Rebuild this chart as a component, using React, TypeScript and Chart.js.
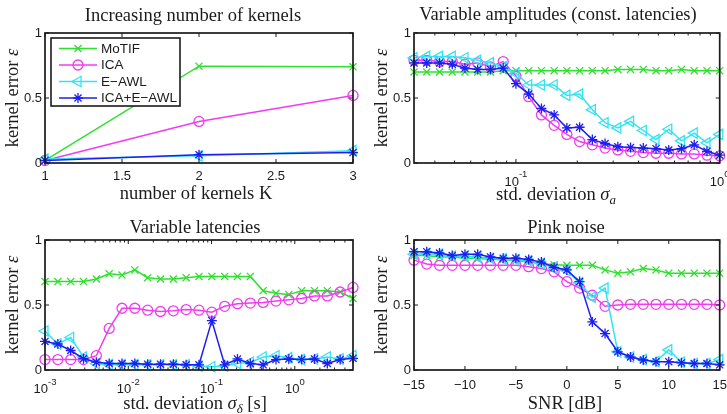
import React, { useEffect, useRef } from 'react';
import { Chart, registerables } from 'chart.js';

Chart.register(...registerables);

// ---- x positions -------------------------------------------------------
const kernelsK = [1, 2, 3];
const sigmaAmp = [
  0.0316, 0.0365, 0.0422, 0.0487, 0.0562, 0.0649, 0.075, 0.0866, 0.1, 0.1155,
  0.1334, 0.154, 0.1778, 0.2054, 0.2371, 0.2738, 0.3162, 0.3652, 0.4217, 0.487,
  0.5623, 0.6494, 0.7499, 0.866, 1.0,
];
const sigmaLat = [
  0.001, 0.001426, 0.002034, 0.002901, 0.004136, 0.005898, 0.00841, 0.01199,
  0.0171, 0.02438, 0.03477, 0.04958, 0.0707, 0.1008, 0.1438, 0.205, 0.2923,
  0.4169, 0.5944, 0.8476, 1.209, 1.724, 2.458, 3.505, 5.0,
];
const snrDb = [
  -15, -13.75, -12.5, -11.25, -10, -8.75, -7.5, -6.25, -5, -3.75, -2.5, -1.25, 0,
  1.25, 2.5, 3.75, 5, 6.25, 7.5, 8.75, 10, 11.25, 12.5, 13.75, 15,
];

// ---- kernel error, increasing number of kernels ------------------------
const motifK = [0.02, 0.745, 0.74];
const icaK = [0.02, 0.32, 0.52];
const eawlK = [0.03, 0.055, 0.095];
const comboK = [0.02, 0.064, 0.08];

// ---- kernel error, variable amplitudes --------------------------------
const motifAmp = [0.7, 0.7, 0.7, 0.7, 0.7, 0.7, 0.7, 0.71, 0.71, 0.71, 0.71, 0.71, 0.71, 0.71, 0.71, 0.71, 0.72, 0.72, 0.72, 0.71, 0.71, 0.72, 0.71, 0.71, 0.71];
const icaAmp = [0.79, 0.79, 0.78, 0.78, 0.76, 0.77, 0.74, 0.78, 0.67, 0.51, 0.37, 0.29, 0.22, 0.165, 0.14, 0.115, 0.1, 0.09, 0.08, 0.075, 0.075, 0.07, 0.07, 0.06, 0.055];
const eawlAmp = [0.81, 0.82, 0.82, 0.82, 0.81, 0.79, 0.77, 0.74, 0.69, 0.6, 0.6, 0.6, 0.52, 0.53, 0.41, 0.31, 0.27, 0.32, 0.25, 0.18, 0.26, 0.17, 0.23, 0.155, 0.22];
const comboAmp = [0.77, 0.77, 0.77, 0.76, 0.73, 0.72, 0.72, 0.73, 0.61, 0.53, 0.42, 0.37, 0.27, 0.275, 0.18, 0.15, 0.125, 0.12, 0.115, 0.11, 0.1, 0.11, 0.14, 0.09, 0.06];

// ---- kernel error, variable latencies ----------------------------------
const motifLat = [0.68, 0.68, 0.68, 0.68, 0.7, 0.74, 0.73, 0.77, 0.71, 0.7, 0.7, 0.71, 0.72, 0.72, 0.72, 0.72, 0.72, 0.61, 0.59, 0.58, 0.61, 0.61, 0.61, 0.6, 0.55];
const icaLat = [0.08, 0.08, 0.08, 0.08, 0.11, 0.32, 0.475, 0.475, 0.46, 0.45, 0.455, 0.465, 0.46, 0.445, 0.49, 0.51, 0.515, 0.52, 0.53, 0.54, 0.55, 0.57, 0.57, 0.6, 0.635];
const eawlLat = [0.3, 0.2, 0.25, 0.1, 0.05, 0.04, 0.04, 0.04, 0.04, 0.04, 0.04, 0.04, 0.03, 0.025, 0.03, 0.05, 0.06, 0.1, 0.11, 0.095, 0.08, 0.085, 0.1, 0.085, 0.11];
const comboLat = [0.22, 0.2, 0.15, 0.087, 0.06, 0.05, 0.05, 0.05, 0.045, 0.045, 0.045, 0.04, 0.04, 0.38, 0.04, 0.085, 0.05, 0.04, 0.08, 0.085, 0.08, 0.085, 0.05, 0.08, 0.09];

// ---- kernel error, pink noise ------------------------------------------
const motifSnr = [0.88, 0.88, 0.87, 0.87, 0.86, 0.86, 0.85, 0.85, 0.84, 0.83, 0.82, 0.81, 0.805, 0.805, 0.805, 0.77, 0.745, 0.755, 0.78, 0.77, 0.745, 0.745, 0.745, 0.745, 0.745];
const icaSnr = [0.845, 0.815, 0.805, 0.805, 0.805, 0.805, 0.805, 0.805, 0.805, 0.795, 0.78, 0.755, 0.68, 0.63, 0.575, 0.49, 0.5, 0.505, 0.505, 0.505, 0.505, 0.505, 0.505, 0.505, 0.5];
const eawlSnr = [0.89, 0.895, 0.89, 0.875, 0.875, 0.87, 0.86, 0.855, 0.85, 0.84, 0.82, 0.785, 0.765, 0.67, 0.56, 0.63, 0.14, 0.1, 0.08, 0.065, 0.155, 0.06, 0.05, 0.05, 0.08];
const comboSnr = [0.91, 0.91, 0.9, 0.88, 0.89, 0.89, 0.87, 0.86, 0.86, 0.85, 0.83, 0.79, 0.77, 0.68, 0.37, 0.28, 0.14, 0.1, 0.077, 0.064, 0.064, 0.056, 0.05, 0.05, 0.04];

// ---- legend and tick labels --------------------------------------------
const methodNames = ['MoTIF', 'ICA', 'E\u2212AWL', 'ICA+E\u2212AWL'];
const errorTicks = [0, 0.5, 1];
const errorTickText = ['0', '0.5', '1'];
const kernelTicks = [1, 1.5, 2, 2.5, 3];
const kernelTickText = ['1', '1.5', '2', '2.5', '3'];
const ampExponents = [-1, 0];
const latExponents = [-3, -2, -1, 0];
const snrTicks = [-15, -10, -5, 0, 5, 10, 15];
const snrTickText = ['\u221215', '\u221210', '\u22125', '0', '5', '10', '15'];

const INK = '#1b1b1b';
const SERIF = '"Liberation Serif", "Times New Roman", serif';
const SANS = '"Liberation Sans", Arial, sans-serif';

const methodStyles = [
  { color: '#2fe02f', point: 'crossRot', radius: 5, rotation: 0 },
  { color: '#f03cf0', point: 'circle', radius: 5, rotation: 0 },
  { color: '#33e3f0', point: 'triangle', radius: 6, rotation: -90 },
  { color: '#1e1ef0', point: 'star', radius: 5, rotation: 0 },
];

type Seg = { t: string; it?: boolean; sub?: boolean };

type PanelSpec = {
  left: number;
  top: number;
  width: number;
  height: number;
  area: { l: number; r: number; t: number; b: number };
  xLog: boolean;
  xMin: number;
  xMax: number;
  xs: number[];
  series: number[][];
  xTicks?: number[];
  xTickText?: string[];
  xExps?: number[];
  tickBase: number;
  title: string;
  titleX: number;
  titleBase: number;
  xLabel: Seg[];
  xLabelX: number;
  xLabelBase: number;
  legend: boolean;
};

const yLabel: Seg[] = [{ t: 'kernel error ' }, { t: '\u03b5', it: true }];

const panels: PanelSpec[] = [
  {
    left: 0, top: 0, width: 364, height: 207,
    area: { l: 45, r: 353, t: 33, b: 163 },
    xLog: false, xMin: 1, xMax: 3, xs: kernelsK,
    series: [motifK, icaK, eawlK, comboK],
    xTicks: kernelTicks, xTickText: kernelTickText, tickBase: 17,
    title: 'Increasing number of kernels', titleX: 193, titleBase: 20.5,
    xLabel: [{ t: 'number of kernels K' }], xLabelX: 196, xLabelBase: 199,
    legend: true,
  },
  {
    left: 364, top: 0, width: 363, height: 207,
    area: { l: 50, r: 358, t: 33, b: 163 },
    xLog: true, xMin: 0.0316, xMax: 1, xs: sigmaAmp,
    series: [motifAmp, icaAmp, eawlAmp, comboAmp],
    xExps: ampExponents, tickBase: 22.5,
    title: 'Variable amplitudes (const. latencies)', titleX: 194, titleBase: 20,
    xLabel: [{ t: 'std. deviation ' }, { t: '\u03c3', it: true }, { t: 'a', it: true, sub: true }],
    xLabelX: 192, xLabelBase: 200,
    legend: false,
  },
  {
    left: 0, top: 207, width: 364, height: 207,
    area: { l: 45, r: 353, t: 33, b: 163 },
    xLog: true, xMin: 0.001, xMax: 5, xs: sigmaLat,
    series: [motifLat, icaLat, eawlLat, comboLat],
    xExps: latExponents, tickBase: 23,
    title: 'Variable latencies', titleX: 195, titleBase: 25.5,
    xLabel: [{ t: 'std. deviation ' }, { t: '\u03c3', it: true }, { t: '\u03b4', it: true, sub: true }, { t: ' [s]' }],
    xLabelX: 195, xLabelBase: 201.5,
    legend: false,
  },
  {
    left: 364, top: 207, width: 363, height: 207,
    area: { l: 50, r: 358, t: 33, b: 163 },
    xLog: false, xMin: -15, xMax: 15, xs: snrDb,
    series: [motifSnr, icaSnr, eawlSnr, comboSnr],
    xTicks: snrTicks, xTickText: snrTickText, tickBase: 18.5,
    title: 'Pink noise', titleX: 202, titleBase: 26,
    xLabel: [{ t: 'SNR [dB]' }], xLabelX: 201, xLabelBase: 201.5,
    legend: false,
  },
];

function segFont(s: Seg, size: number) {
  const sz = s.sub ? size * 0.7 : size;
  return `${s.it ? 'italic ' : ''}${sz}px ${SERIF}`;
}

// Writes a run of text pieces (normal / italic / subscript) centred on cx.
function drawSegs(ctx: CanvasRenderingContext2D, segs: Seg[], size: number, cx: number, base: number) {
  ctx.textAlign = 'left';
  ctx.textBaseline = 'alphabetic';
  const widths = segs.map((s) => {
    ctx.font = segFont(s, size);
    return ctx.measureText(s.t).width;
  });
  const total = widths.reduce((a, b) => a + b, 0);
  let x = cx - total / 2;
  segs.forEach((s, i) => {
    ctx.font = segFont(s, size);
    ctx.fillText(s.t, x, base + (s.sub ? size * 0.24 : 0));
    x += widths[i];
  });
}

function drawMarker(ctx: CanvasRenderingContext2D, style: string, x: number, y: number, r: number) {
  const d = r * Math.SQRT1_2;
  ctx.beginPath();
  if (style === 'circle') {
    ctx.arc(x, y, r, 0, Math.PI * 2);
  } else if (style === 'triangle') {
    ctx.moveTo(x - r, y);
    ctx.lineTo(x + r / 2, y - r * 0.866);
    ctx.lineTo(x + r / 2, y + r * 0.866);
    ctx.closePath();
  } else {
    ctx.moveTo(x - d, y - d);
    ctx.lineTo(x + d, y + d);
    ctx.moveTo(x - d, y + d);
    ctx.lineTo(x + d, y - d);
    if (style === 'star') {
      ctx.moveTo(x - r, y);
      ctx.lineTo(x + r, y);
      ctx.moveTo(x, y - r);
      ctx.lineTo(x, y + r);
    }
  }
  ctx.stroke();
}

function drawFrame(chart: Chart, p: PanelSpec) {
  const ctx = chart.ctx;
  const a = chart.chartArea;
  const xs = chart.scales.x;
  const ys = chart.scales.y;
  ctx.save();
  ctx.fillStyle = INK;
  ctx.strokeStyle = INK;

  // inward tick marks on all four sides
  ctx.lineWidth = 1;
  ctx.beginPath();
  const majors = p.xLog ? (p.xExps || []).map((e) => Math.pow(10, e)) : p.xTicks || [];
  majors.forEach((v) => {
    const px = xs.getPixelForValue(v);
    ctx.moveTo(px, a.bottom);
    ctx.lineTo(px, a.bottom - 4);
    ctx.moveTo(px, a.top);
    ctx.lineTo(px, a.top + 4);
  });
  if (p.xLog) {
    const e0 = Math.floor(Math.log10(p.xMin));
    const e1 = Math.ceil(Math.log10(p.xMax));
    for (let e = e0; e <= e1; e++) {
      for (let m = 2; m <= 9; m++) {
        const v = m * Math.pow(10, e);
        if (v <= p.xMin || v >= p.xMax) continue;
        const px = xs.getPixelForValue(v);
        ctx.moveTo(px, a.bottom);
        ctx.lineTo(px, a.bottom - 2.5);
        ctx.moveTo(px, a.top);
        ctx.lineTo(px, a.top + 2.5);
      }
    }
  }
  errorTicks.forEach((v) => {
    const py = ys.getPixelForValue(v);
    ctx.moveTo(a.left, py);
    ctx.lineTo(a.left + 4, py);
    ctx.moveTo(a.right, py);
    ctx.lineTo(a.right - 4, py);
  });
  ctx.stroke();

  // axes box
  ctx.lineWidth = 1.7;
  ctx.strokeRect(a.left, a.top, a.right - a.left, a.bottom - a.top);

  // y tick labels
  ctx.font = `13px ${SANS}`;
  ctx.textAlign = 'right';
  ctx.textBaseline = 'middle';
  errorTicks.forEach((v, i) => {
    ctx.fillText(errorTickText[i], a.left - 3, ys.getPixelForValue(v));
  });

  // x tick labels
  ctx.textBaseline = 'alphabetic';
  if (p.xLog) {
    (p.xExps || []).forEach((e) => {
      const px = xs.getPixelForValue(Math.pow(10, e));
      ctx.font = `13px ${SANS}`;
      const wb = ctx.measureText('10').width;
      ctx.font = `9.5px ${SANS}`;
      const expText = String(e);
      const we = ctx.measureText(expText).width;
      const x0 = px - (wb + we) / 2;
      ctx.textAlign = 'left';
      ctx.font = `13px ${SANS}`;
      ctx.fillText('10', x0, a.bottom + p.tickBase);
      ctx.font = `9.5px ${SANS}`;
      ctx.fillText(expText, x0 + wb, a.bottom + p.tickBase - 8.5);
    });
  } else {
    ctx.font = `13px ${SANS}`;
    ctx.textAlign = 'center';
    (p.xTicks || []).forEach((v, i) => {
      ctx.fillText((p.xTickText || [])[i], xs.getPixelForValue(v), a.bottom + p.tickBase);
    });
  }

  // title and axis labels
  drawSegs(ctx, [{ t: p.title }], 18.5, p.titleX, p.titleBase);
  drawSegs(ctx, p.xLabel, 18.5, p.xLabelX, p.xLabelBase);
  ctx.save();
  ctx.translate(a.left - 27.5, (a.top + a.bottom) / 2);
  ctx.rotate(-Math.PI / 2);
  drawSegs(ctx, yLabel, 18.5, 0, 0);
  ctx.restore();

  // boxed legend in the upper-left corner
  if (p.legend) {
    const bx = a.left + 6;
    const by = a.top + 5;
    const bw = 129;
    const bh = 68;
    ctx.fillStyle = '#ffffff';
    ctx.fillRect(bx, by, bw, bh);
    ctx.strokeStyle = INK;
    ctx.lineWidth = 1.6;
    ctx.strokeRect(bx, by, bw, bh);
    methodNames.forEach((name, i) => {
      const st = methodStyles[i];
      const y = by + 10.5 + i * 16.5;
      ctx.strokeStyle = st.color;
      ctx.lineWidth = 1.5;
      ctx.beginPath();
      ctx.moveTo(bx + 8, y);
      ctx.lineTo(bx + 46, y);
      ctx.stroke();
      ctx.lineWidth = 1.3;
      drawMarker(ctx, st.point, bx + 27, y, st.radius);
      ctx.fillStyle = INK;
      ctx.font = `13.5px ${SANS}`;
      ctx.textAlign = 'left';
      ctx.textBaseline = 'middle';
      ctx.fillText(name, bx + 50, y + 0.5);
    });
  }
  ctx.restore();
}

function buildConfig(p: PanelSpec): any {
  const datasets = p.series.map((ys, i) => {
    const st = methodStyles[i];
    return {
      label: methodNames[i],
      data: p.xs.map((x, k) => ({ x, y: ys[k] })),
      borderColor: st.color,
      borderWidth: 1.5,
      pointStyle: st.point,
      pointRadius: st.radius,
      pointRotation: st.rotation,
      pointBorderWidth: 1.3,
      pointBorderColor: st.color,
      pointBackgroundColor: 'rgba(0,0,0,0)',
      tension: 0,
      fill: false,
      clip: false,
      order: 3 - i,
    };
  });
  return {
    type: 'line',
    data: { datasets },
    options: {
      animation: false,
      responsive: false,
      devicePixelRatio: 1,
      events: [],
      layout: { padding: { top: p.area.t, right: p.width - p.area.r, bottom: 0, left: 0 } },
      scales: {
        x: {
          type: p.xLog ? 'logarithmic' : 'linear',
          min: p.xMin,
          max: p.xMax,
          grid: { display: false },
          border: { display: false },
          ticks: { display: false },
          afterFit: (s: any) => {
            s.height = p.height - p.area.b;
          },
        },
        y: {
          type: 'linear',
          min: 0,
          max: 1,
          grid: { display: false },
          border: { display: false },
          ticks: { display: false },
          afterFit: (s: any) => {
            s.width = p.area.l;
          },
        },
      },
      plugins: {
        legend: { display: false },
        tooltip: { enabled: false },
        title: { display: false },
      },
    },
    plugins: [
      {
        id: 'frame',
        afterDatasetsDraw: (chart: Chart) => drawFrame(chart, p),
      },
    ],
  };
}

function PanelChart({ p }: { p: PanelSpec }) {
  const ref = useRef<HTMLCanvasElement>(null);
  useEffect(() => {
    const canvas = ref.current;
    if (!canvas) return;
    const chart = new Chart(canvas, buildConfig(p));
    return () => chart.destroy();
  }, [p]);
  return (
    <canvas
      ref={ref}
      width={p.width}
      height={p.height}
      style={{ position: 'absolute', left: p.left, top: p.top, width: p.width, height: p.height }}
    />
  );
}

export default function App() {
  return (
    <div
      style={{
        position: 'absolute',
        left: 0,
        top: 0,
        width: 727,
        height: 414,
        background: '#ffffff',
        overflow: 'hidden',
      }}
    >
      {panels.map((p, i) => (
        <PanelChart key={i} p={p} />
      ))}
    </div>
  );
}
